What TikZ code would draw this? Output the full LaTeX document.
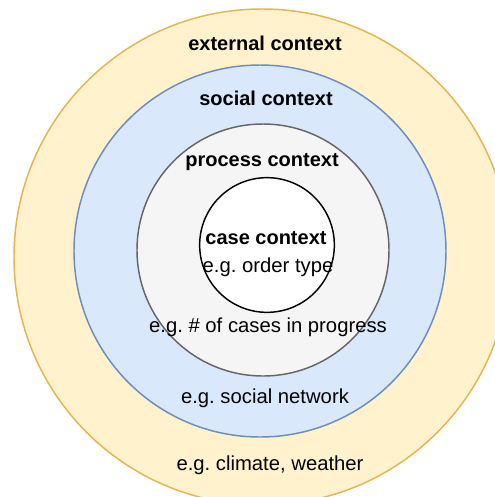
\documentclass[tikz,border=0pt]{standalone}
\usepackage{fontspec}
\setmainfont{Liberation Sans}
\definecolor{extfill}{HTML}{FFF2CC}
\definecolor{extline}{HTML}{E3B64F}
\definecolor{socfill}{HTML}{DAE8FC}
\definecolor{socline}{HTML}{6C8EBF}
\definecolor{procfill}{HTML}{F5F5F5}
\definecolor{procline}{HTML}{666666}
\tikzset{
  ring/.style={circle,inner sep=0pt,outer sep=0pt,line width=1.1pt},
  title/.style={font=\fontsize{15}{18}\selectfont\bfseries},
  example/.style={font=\fontsize{15.2}{18}\selectfont}
}
\begin{document}
\begin{tikzpicture}[x=0.75pt,y=-0.75pt]
  \useasboundingbox(0,0) rectangle (494,497);
  \node[ring,draw=extline,fill=extfill,minimum size=372pt](ext) at (262,257){};
  \node[ring,draw=socline,fill=socfill,minimum size=279pt](soc) at (260,251){};
  \node[ring,draw=procline,fill=procfill,minimum size=189pt](proc) at (263,250){};
  \node[ring,draw=black,fill=white,minimum size=101pt](case) at (267,245){};
  \node[title](exttitle) at (265,43){external context};
  \node[title](soctitle) at (266,98){social context};
  \node[title](proctitle) at (262,162){process context};
  \node[title](casetitle) at (266,238){case context};
  \node[example](caseex) at (268,267){e.g.\ order type};
  \node[example](procex) at (268,327){e.g.\ \# of cases in progress};
  \node[example](socex) at (265,398){e.g.\ social network};
  \node[example](extex) at (270,465){e.g.\ climate, weather};
\end{tikzpicture}
\end{document}
